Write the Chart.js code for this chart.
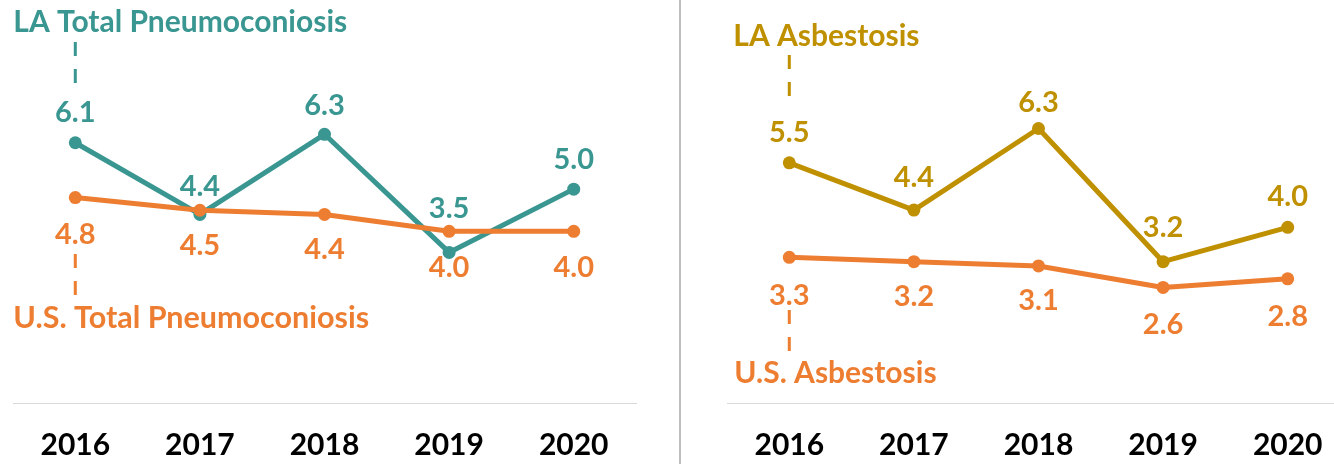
<!DOCTYPE html>
<html>
<head>
<meta charset="utf-8">
<script src="https://cdn.jsdelivr.net/npm/chart.js@4/dist/chart.umd.min.js"></script>
<style>
  html, body { margin: 0; padding: 0; background: #fff; overflow: hidden; }
  #wrap { position: relative; width: 1334px; height: 464px; overflow: hidden; background: #fff; }
  .panel { position: absolute; top: 0; }
  #sep { position: absolute; left: 679px; top: 0; width: 2px; height: 464px; background: #BFBFBF; }
</style>
</head>
<body>
<div id="wrap">
  <div class="panel" style="left:0px;"><canvas id="c1" width="680" height="464"></canvas></div>
  <div class="panel" style="left:680px;"><canvas id="c2" width="680" height="464"></canvas></div>
  <div id="sep"></div>
</div>
<script>
// ---- Data ----
const years = ['2016', '2017', '2018', '2019', '2020'];
const laTotal = [6.1, 4.4, 6.3, 3.5, 5.0];
const usTotal = [4.8, 4.5, 4.4, 4.0, 4.0];
const laAsbestosis = [5.5, 4.4, 6.3, 3.2, 4.0];
const usAsbestosis = [3.3, 3.2, 3.1, 2.6, 2.8];
const seriesNames = {
  laTotal: 'LA Total Pneumoconiosis',
  usTotal: 'U.S. Total Pneumoconiosis',
  laAsb: 'LA Asbestosis',
  usAsb: 'U.S. Asbestosis'
};

// ---- Styles ----
const TEAL = '#3A9691';
const ORANGE = '#ED7D31';
const GOLD = '#BF9000';
const FONT = 'Lato, "Open Sans", sans-serif';

const annotPlugin = {
  id: 'annot',
  afterDatasetsDraw(chart) {
    const cfg = chart.options.plugins.annot;
    if (!cfg) return;
    const ctx = chart.ctx;
    ctx.save();
    cfg.items.forEach(item => {
      const meta = chart.getDatasetMeta(item.dataset);
      const ds = chart.data.datasets[item.dataset];
      // value labels
      ctx.font = 'bold 29px ' + FONT;
      ctx.fillStyle = item.color;
      ctx.textAlign = 'center';
      ctx.textBaseline = 'middle';
      meta.data.forEach((pt, j) => {
        ctx.fillText(ds.data[j].toFixed(1), pt.x, pt.y + item.offsets[j]);
      });
      // series name
      const x0 = meta.data[0].x;
      ctx.font = 'bold ' + item.nameSize + 'px ' + FONT;
      ctx.textAlign = 'left';
      ctx.fillText(item.name, x0 + item.nameDx, item.nameY);
      // dashed leader
      ctx.strokeStyle = item.color;
      ctx.lineWidth = 3;
      ctx.setLineDash([14, 13]);
      ctx.beginPath();
      ctx.moveTo(x0, item.dashY[0]);
      ctx.lineTo(x0, item.dashY[1]);
      ctx.stroke();
      ctx.setLineDash([]);
    });
    ctx.restore();
  }
};

function makeChart(id, dataA, colorA, dataB, colorB, yMin, yMax, padL, padR, annotItems) {
  return new Chart(document.getElementById(id), {
    type: 'line',
    data: {
      labels: years,
      datasets: [
        { data: dataB, borderColor: colorB, backgroundColor: colorB, pointBackgroundColor: colorB, pointBorderColor: colorB },
        { data: dataA, borderColor: colorA, backgroundColor: colorA, pointBackgroundColor: colorA, pointBorderColor: colorA }
      ]
    },
    options: {
      responsive: false,
      animation: false,
      layout: { padding: { left: padL, right: padR, top: 0, bottom: 0 } },
      elements: {
        line: { borderWidth: 5, tension: 0, borderCapStyle: 'round', borderJoinStyle: 'round' },
        point: { radius: 6.5, borderWidth: 0, hoverRadius: 6.5 }
      },
      clip: false,
      scales: {
        x: {
          type: 'category',
          offset: true,
          afterFit: (scale) => { scale.height = 61; },
          grid: { display: true, drawOnChartArea: false, drawTicks: false },
          border: { display: true, color: '#D9D9D9', width: 1 },
          ticks: { color: '#000', padding: 24, font: { family: FONT, size: 30, weight: 'bold' } }
        },
        y: { display: false, min: yMin, max: yMax }
      },
      plugins: {
        legend: { display: false },
        tooltip: { enabled: false },
        annot: { items: annotItems }
      }
    },
    plugins: [annotPlugin]
  });
}

makeChart('c1', laTotal, TEAL, usTotal, ORANGE, -0.07, 9.33, 13, 44, [
  { dataset: 1, color: TEAL, name: seriesNames.laTotal, nameSize: 30, nameDx: -62, nameY: 22, dashY: [42, 85], offsets: [-30, -28, -29, -44, -30] },
  { dataset: 0, color: ORANGE, name: seriesNames.usTotal, nameSize: 30.5, nameDx: -62, nameY: 318, dashY: [254, 297], offsets: [37, 35, 35, 36, 36] }
]);

makeChart('c2', laAsbestosis, GOLD, usAsbestosis, ORANGE, -0.09, 9.14, 47, 10, [
  { dataset: 1, color: GOLD, name: seriesNames.laAsb, nameSize: 30, nameDx: -56, nameY: 36, dashY: [55, 98], offsets: [-30, -32, -26, -34, -31] },
  { dataset: 0, color: ORANGE, name: seriesNames.usAsb, nameSize: 30, nameDx: -55, nameY: 373, dashY: [310, 353], offsets: [38, 35, 35, 37, 38] }
]);
</script>
</body>
</html>
